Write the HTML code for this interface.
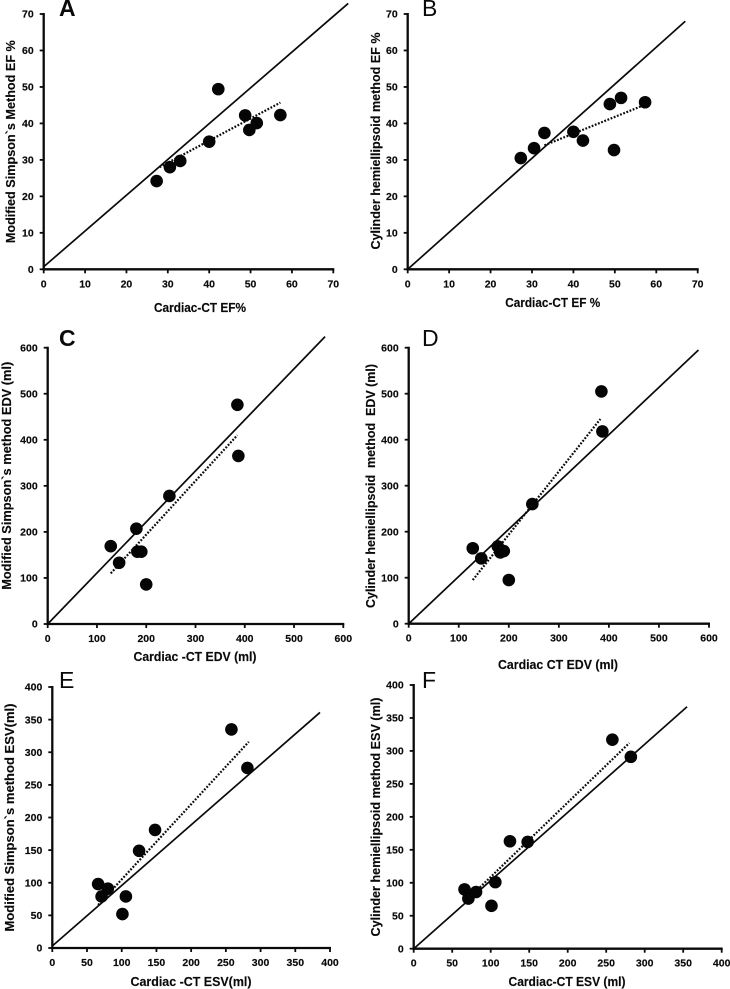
<!DOCTYPE html>
<html lang="en">
<head>
<meta charset="utf-8">
<title>Cardiac-CT comparison scatter plots</title>
<style>
html,body{margin:0;padding:0;background:#fff;width:730px;height:989px;overflow:hidden}
svg{display:block}
text{font-family:"Liberation Sans",sans-serif;fill:#0a0a0a;white-space:pre}
.tick{font-size:10.5px;font-weight:bold;stroke:#0a0a0a;stroke-width:.15px}
.title{font-size:12.5px;font-weight:bold;stroke:#0a0a0a;stroke-width:.15px}
.letter{font-size:23px}
</style>
</head>
<body>
<svg id="chart" xmlns="http://www.w3.org/2000/svg" width="730" height="989" viewBox="0 0 730 989"></svg>
<script>
// Panel A
const aCt = [27.3, 30.5, 33, 40, 42.2, 48.7, 49.7, 51.5, 57.2];
const aMethod = [24.2, 28, 29.7, 35, 49.4, 42.2, 38.2, 40.1, 42.3];
const aTrendX = [28, 57.2];
const aTrendY = [28, 45.7];
const aIdentityX = [0, 73.6];
const aIdentityY = [0.7, 72.9];
// Panel B
const bCt = [27.3, 30.5, 33, 40, 42.3, 48.8, 49.8, 51.5, 57.3];
const bMethod = [30.5, 33.2, 37.4, 37.7, 35.3, 45.3, 32.7, 47, 45.8];
const bTrendX = [33, 57];
const bTrendY = [34, 45];
const bIdentityX = [0, 67];
const bIdentityY = [0, 68];
// Panel C
const cCt = [128, 145, 180, 182, 190, 200, 247, 385, 387];
const cMethod = [169, 133, 207, 157, 157, 86, 278, 476, 365];
const cTrendX = [128, 385];
const cTrendY = [110, 410];
const cIdentityX = [0, 563];
const cIdentityY = [0, 624];
// Panel D
const dCt = [128, 145, 178, 183, 190, 200, 247, 385, 387];
const dMethod = [164, 142, 168, 155, 158, 95, 260, 505, 418];
const dTrendX = [128, 383];
const dTrendY = [95, 445];
const dIdentityX = [0, 579];
const dIdentityY = [0, 595];
// Panel E
const eCt = [66, 71, 80, 101, 106, 125, 148, 258, 281];
const eMethod = [98, 79, 91, 52, 79, 149, 181, 335, 276];
const eTrendX = [66, 283];
const eTrendY = [66, 316];
const eIdentityX = [0, 385.6];
const eIdentityY = [3, 361];
// Panel F
const fCt = [66, 71, 81, 101, 106, 125, 148, 258, 282];
const fMethod = [90, 76, 86, 65, 101, 163, 162, 317, 291];
const fTrendX = [70, 280];
const fTrendY = [75, 312];
const fIdentityX = [0, 355];
const fIdentityY = [0, 367];
// Tick labels
const efTicks = [0, 10, 20, 30, 40, 50, 60, 70];
const edvTicks = [0, 100, 200, 300, 400, 500, 600];
const esvTicks = [0, 50, 100, 150, 200, 250, 300, 350, 400];

const NS = 'http://www.w3.org/2000/svg';
const root = document.getElementById('chart');

function make(tag, parent, attrs) {
  const el = document.createElementNS(NS, tag);
  for (const k in attrs) el.setAttribute(k, attrs[k]);
  parent.appendChild(el);
  return el;
}

function drawPanel(p) {
  const xMax = p.xTicks[p.xTicks.length - 1];
  const yMax = p.yTicks[p.yTicks.length - 1];
  const sx = v => p.x0 + (v / xMax) * (p.x1 - p.x0);
  const sy = v => p.y0 - (v / yMax) * (p.y0 - p.y1);

  const g = make('g', root, {});
  
  

  const xAxis = make('line', g, {x1: p.x0 - 1, y1: p.y0, x2: p.x1 + 1, y2: p.y0, stroke: '#0a0a0a', 'stroke-width': 2.3});
  
  

  const yAxis = make('line', g, {x1: p.x0, y1: p.y0 + 1, x2: p.x0, y2: p.y1 - 1, stroke: '#0a0a0a', 'stroke-width': 2.3});
  
  

  p.xTicks.forEach(v => {
    const t = make('line', g, {x1: sx(v), y1: p.y0, x2: sx(v), y2: p.y0 + 4, stroke: '#0a0a0a', 'stroke-width': 1.8});
    
    
    const l = make('text', g, {x: sx(v), y: p.y0 + 18, 'text-anchor': 'middle', class: 'tick'});
    
    
    l.textContent = v;
  });

  p.yTicks.forEach(v => {
    const t = make('line', g, {x1: p.x0 - 4, y1: sy(v), x2: p.x0, y2: sy(v), stroke: '#0a0a0a', 'stroke-width': 1.8});
    
    
    const l = make('text', g, {x: p.x0 - 10, y: sy(v) + 3.7, 'text-anchor': 'end', class: 'tick'});
    
    
    l.textContent = v;
  });

  const identity = make('line', g, {x1: sx(p.identityX[0]), y1: sy(p.identityY[0]), x2: sx(p.identityX[1]), y2: sy(p.identityY[1]), stroke: '#0a0a0a', 'stroke-width': 1.7});
  
  

  const trend = make('line', g, {x1: sx(p.trendX[0]), y1: sy(p.trendY[0]), x2: sx(p.trendX[1]), y2: sy(p.trendY[1]), stroke: '#0a0a0a', 'stroke-width': 2.2, 'stroke-dasharray': '1.8 1.6'});
  
  

  p.ct.forEach((v, i) => {
    const c = make('circle', g, {cx: sx(v), cy: sy(p.method[i]), r: 6.3, fill: '#050505'});
    
    
  });

  const xt = make('text', g, {x: p.xTitle[1], y: p.xTitle[2], 'text-anchor': 'middle', class: 'title', textLength: p.xTitle[3], lengthAdjust: 'spacingAndGlyphs'});
  
  
  xt.textContent = p.xTitle[0];

  const yt = make('text', g, {transform: 'translate(' + p.yTitle[1] + ',' + p.yTitle[2] + ') rotate(-90)', 'text-anchor': 'middle', class: 'title', textLength: p.yTitle[3], lengthAdjust: 'spacingAndGlyphs'});
  
  
  yt.textContent = p.yTitle[0];

  const letter = make('text', g, {x: p.letter[0], y: p.letter[1], class: 'letter', 'font-weight': p.letter[2]});
  
  
  letter.textContent = p.id;
}

drawPanel({id: 'A', x0: 43.7, x1: 333.3, y0: 269.3, y1: 14, xTicks: efTicks, yTicks: efTicks,
  ct: aCt, method: aMethod, trendX: aTrendX, trendY: aTrendY, identityX: aIdentityX, identityY: aIdentityY,
  xTitle: ['Cardiac-CT EF%', 200, 312, 92], yTitle: ['Modified Simpson`s Method EF %', 15, 141.7, 203], letter: [59, 16, 'bold']});
drawPanel({id: 'B', x0: 407.7, x1: 697.7, y0: 269.3, y1: 14, xTicks: efTicks, yTicks: efTicks,
  ct: bCt, method: bMethod, trendX: bTrendX, trendY: bTrendY, identityX: bIdentityX, identityY: bIdentityY,
  xTitle: ['Cardiac-CT EF %', 552.7, 307, 95], yTitle: ['Cylinder hemiellipsoid method EF %', 380, 141, 217], letter: [422, 16, 'normal']});
drawPanel({id: 'C', x0: 47.7, x1: 343.3, y0: 624, y1: 347.7, xTicks: edvTicks, yTicks: edvTicks,
  ct: cCt, method: cMethod, trendX: cTrendX, trendY: cTrendY, identityX: cIdentityX, identityY: cIdentityY,
  xTitle: ['Cardiac -CT EDV (ml)', 195, 661, 123], yTitle: ['Modified Simpson`s method EDV (ml)', 11, 475.8, 228], letter: [59, 346, 'bold']});
drawPanel({id: 'D', x0: 408.7, x1: 709, y0: 623.7, y1: 347.7, xTicks: edvTicks, yTicks: edvTicks,
  ct: dCt, method: dMethod, trendX: dTrendX, trendY: dTrendY, identityX: dIdentityX, identityY: dIdentityY,
  xTitle: ['Cardiac CT EDV (ml)', 558, 669, 120], yTitle: ['Cylinder hemiellipsoid  method  EDV (ml)', 375, 486, 244], letter: [422, 346, 'normal']});
drawPanel({id: 'E', x0: 52.3, x1: 330, y0: 948, y1: 687, xTicks: esvTicks, yTicks: esvTicks,
  ct: eCt, method: eMethod, trendX: eTrendX, trendY: eTrendY, identityX: eIdentityX, identityY: eIdentityY,
  xTitle: ['Cardiac -CT ESV(ml)', 191, 986, 121], yTitle: ['Modified Simpson`s method ESV(ml)', 14, 817.5, 228], letter: [59, 688, 'normal']});
drawPanel({id: 'F', x0: 413.7, x1: 721.7, y0: 948.7, y1: 685, xTicks: esvTicks, yTicks: esvTicks,
  ct: fCt, method: fMethod, trendX: fTrendX, trendY: fTrendY, identityX: fIdentityX, identityY: fIdentityY,
  xTitle: ['Cardiac-CT ESV (ml)', 567, 986, 117], yTitle: ['Cylinder hemiellipsoid method ESV (ml)', 380, 817, 239], letter: [422, 688, 'normal']});
</script>
</body>
</html>
